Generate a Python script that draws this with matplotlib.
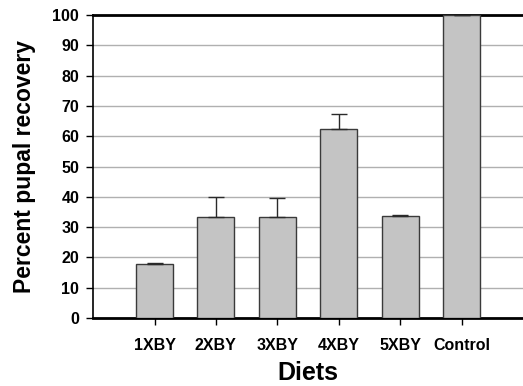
import numpy as np
import matplotlib
matplotlib.use("Agg")
import matplotlib.pyplot as plt

plt.rcParams['font.family'] = ['Liberation Sans', 'DejaVu Sans']

diets = ["1XBY", "2XBY", "3XBY", "4XBY", "5XBY", "Control"]
recovery = [17.8, 33.5, 33.4, 62.4, 33.6, 100.0]
err_up = [0.4, 6.6, 6.2, 5.0, 0.4, 0.0]
yticks = [0, 10, 20, 30, 40, 50, 60, 70, 80, 90, 100]

fig = plt.figure(figsize=(5.23, 3.86), dpi=100)
ax = fig.add_axes([0.178, 0.176, 0.822, 0.785])

x = np.arange(1, len(diets) + 1)
zeros = [0] * len(diets)
ax.bar(x, recovery, width=0.6, color="#c4c4c4", edgecolor="#3a3a3a",
       linewidth=1.0, zorder=3,
       yerr=[zeros, err_up], capsize=6,
       error_kw=dict(ecolor="#2a2a2a", elinewidth=1.0, capthick=1.0))

ax.set_xlim(0, 7)
ax.set_ylim(0, 100)
ax.set_yticks(yticks)
ax.set_xticks(x)
ax.set_xticklabels(diets)
ax.yaxis.grid(True, color="#b0b0b0", linewidth=1.0, zorder=0)
ax.set_axisbelow(True)

for lab in ax.get_xticklabels() + ax.get_yticklabels():
  lab.set_fontweight("bold")
  lab.set_fontsize(11.5)

ax.tick_params(axis="x", direction="out", length=5, width=1, pad=9)
ax.tick_params(axis="y", direction="out", length=5, width=1, pad=5)

ax.spines["right"].set_visible(False)
ax.spines["top"].set_linewidth(2.0)
ax.spines["bottom"].set_linewidth(2.0)
ax.spines["left"].set_linewidth(1.2)

ax.set_xlabel("Diets", fontsize=18, fontweight="bold", labelpad=6)
ax.set_ylabel("Percent pupal recovery", fontsize=16.5, fontweight="bold", labelpad=12)

fig.savefig("out.png", dpi=100)
